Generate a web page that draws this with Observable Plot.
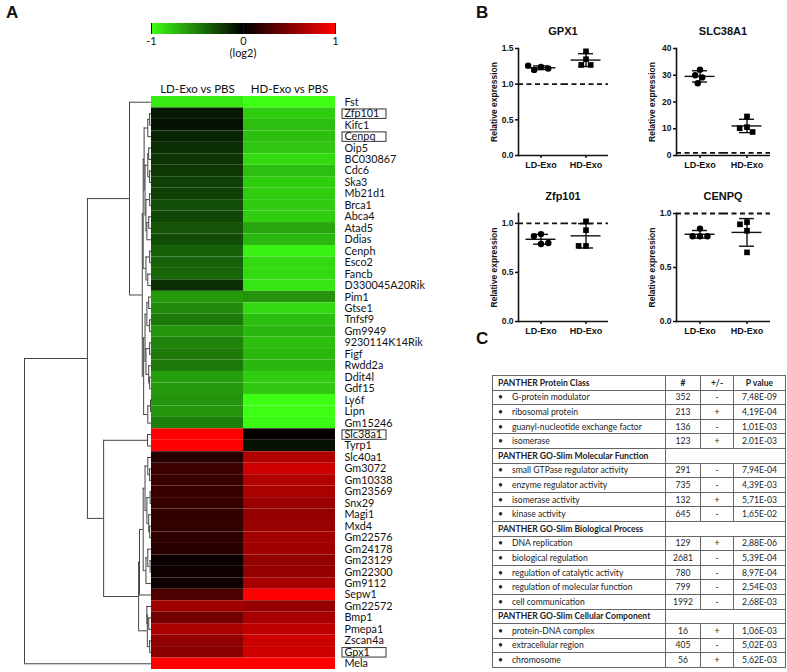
<!DOCTYPE html>
<html><head><meta charset="utf-8">
<script src="https://cdn.jsdelivr.net/npm/d3@7"></script>
<script src="https://cdn.jsdelivr.net/npm/@observablehq/plot@0.6"></script>
<style>
body{margin:0;background:#fff;}
#root{position:relative;width:787px;height:672px;overflow:hidden;font-family:"Liberation Sans",Arial,sans-serif;color:#111;}
.abs{position:absolute;}
.panel{font:bold 17px "Liberation Sans",Arial,sans-serif;}
.btitle{font:bold 11px "Liberation Sans",Arial,sans-serif;text-align:center;width:120px;}
#tbl{position:absolute;left:492px;top:375px;border-collapse:collapse;font-family:Lato,sans-serif;font-size:8.6px;color:#222;table-layout:fixed;}
#tbl td{border:1px solid #666;height:13.6px;padding:0;white-space:nowrap;overflow:hidden;}
#tbl td.c{text-align:center;}
#tbl td.h{font-weight:bold;padding-left:5px;}
#tbl .b{display:inline-block;width:14px;padding-left:5px;}
</style></head>
<body><div id="root"></div>
<script>
// ---------- Panel A data ----------
const genes = ["Fst","Zfp101","Kifc1","Cenpq","Oip5","BC030867","Cdc6","Ska3","Mb21d1","Brca1","Abca4","Atad5","Ddias","Cenph","Esco2","Fancb","D330045A20Rik","Pim1","Gtse1","Tnfsf9","Gm9949","9230114K14Rik","Figf","Rwdd2a","Ddit4l","Gdf15","Ly6f","Lipn","Gm15246","Slc38a1","Tyrp1","Slc40a1","Gm3072","Gm10338","Gm23569","Snx29","Magi1","Mxd4","Gm22576","Gm24178","Gm23129","Gm22300","Gm9112","Sepw1","Gm22572","Bmp1","Pmepa1","Zscan4a","Gpx1","Mela"];
const ldValues = [-0.92,-0.10,-0.07,-0.14,-0.18,-0.20,-0.22,-0.25,-0.25,-0.30,-0.28,-0.33,-0.30,-0.38,-0.38,-0.40,-0.18,-0.60,-0.55,-0.48,-0.58,-0.52,-0.48,-0.48,-0.62,-0.60,-0.58,-0.58,-0.50,1.0,1.0,0.14,0.23,0.23,0.22,0.21,0.20,0.20,0.18,0.16,0.04,0.06,0.06,0.30,0.63,0.45,0.67,0.57,0.54,1.0];
const hdValues = [-1.0,-0.80,-0.75,-0.75,-0.78,-0.85,-0.75,-0.80,-0.80,-0.80,-0.80,-0.65,-0.72,-0.95,-0.85,-0.85,-0.90,-0.58,-0.85,-0.75,-0.72,-0.75,-0.72,-0.72,-0.80,-0.78,-1.0,-1.0,-0.98,0.02,-0.08,0.69,0.80,0.69,0.67,0.60,0.58,0.60,0.64,0.63,0.58,0.58,0.65,1.0,0.59,0.66,0.75,0.80,0.80,1.0];
const heatColumns = ["LD-Exo vs PBS","HD-Exo vs PBS"];
const boxedGenes = ["Zfp101","Cenpq","Slc38a1","Gpx1"];
const colorStops = [-1,0,1];
const colorRange = ["#3cff14","#000000","#ff0000"];
// dendrogram: [left, right, merge distance]; leaves are row indices
const dendrogram = [
  [
    [0,
      [
        [
          [[[1,2,0.02],3,0.04],[[[4,5,0.03],[6,7,0.02],0.04],[[8,9,0.02],[[10,11,0.03],12,0.05],0.06],0.07],0.08],
          [[13,14,0.02],[15,16,0.04],0.06],
          0.09],
        [
          [[[17,18,0.03],[19,20,0.02],0.05],[[21,22,0.02],[23,[24,25,0.02],0.03],0.06],0.07],
          [[26,27,0.01],28,0.04],
          0.085],
        0.10],
      0.239],
    [[29,30,0.043],
      [
        [[[[31,[32,33,0.02],0.04],[[34,35,0.015],[36,[37,38,0.02],0.03],0.05],0.07],[[39,[40,41,0.015],0.04],42,0.06],0.09],43,0.13],
        [[44,[45,46,0.03],0.05],[47,48,0.02],0.045],
        0.14],
      0.52],
    0.696],
  49, 1.38];

// ---------- Panel B data ----------
const groups = ["LD-Exo","HD-Exo"];
const gpx1LD = [1.24,1.20,1.22,1.26];
const gpx1HD = [1.46,1.35,1.27,1.27];
const slc38a1LD = [32.1,30.0,29.2,27.0];
const slc38a1HD = [14.6,10.6,10.2,8.8];
const zfp101LD = [0.89,0.87,0.79,0.80];
const zfp101HD = [1.02,0.93,0.77,0.77];
const cenpqLD = [0.86,0.79,0.79,0.79];
const cenpqHD = [0.92,0.90,0.84,0.64];

// ---------- Panel C data ----------
const tableHeader = ["#","+/-","P value"];
const sections = ["PANTHER Protein Class","PANTHER GO-Slim Molecular Function","PANTHER GO-Slim Biological Process","PANTHER GO-Slim Cellular Component"];
const termSection = [0,0,0,0,1,1,1,1,2,2,2,2,2,3,3,3];
const termNames = ["G-protein modulator","ribosomal protein","guanyl-nucleotide exchange factor","isomerase","small GTPase regulator activity","enzyme regulator activity","isomerase activity","kinase activity","DNA replication","biological regulation","regulation of catalytic activity","regulation of molecular function","cell communication","protein-DNA complex","extracellular region","chromosome"];
const termCounts = [352,213,136,123,291,735,132,645,129,2681,780,799,1992,16,405,56];
const termSigns = ["-","+","-","+","-","-","+","-","+","-","-","-","-","+","-","+"];
const termPvalues = ["7,48E-09","4,19E-04","1,01E-03","2.01E-03","7,94E-04","4,39E-03","5,71E-03","1,65E-02","2,88E-06","5,39E-04","8,97E-04","2,54E-03","2,68E-03","1,06E-03","5,02E-03","5,62E-03"];

// ================= build =================
const root = document.getElementById("root");
function place(el, left, top) {
  const w = document.createElement("div");
  w.className = "abs"; w.style.left = left + "px"; w.style.top = top + "px";
  w.appendChild(el); root.appendChild(w); return w;
}
function label(text, cls, left, top) {
  const d = document.createElement("div");
  d.className = "abs " + cls; d.textContent = text;
  d.style.left = left + "px"; d.style.top = top + "px";
  root.appendChild(d); return d;
}

// ---- Panel A heatmap ----
const cells = [];
genes.forEach((g, i) => {
  cells.push({row: i, col: 0, value: ldValues[i]});
  cells.push({row: i, col: 1, value: hdValues[i]});
});
const verticals = [], horizontals = [];
function layout(node) {
  if (typeof node === "number") return {y: node + 0.5, h: 0};
  const [a, b, h] = node;
  const A = layout(a), B = layout(b);
  verticals.push({h, y1: A.y, y2: B.y});
  horizontals.push({y: A.y, h1: A.h, h2: h}, {y: B.y, h1: B.h, h2: h});
  return {y: (A.y + B.y) / 2, h};
}
layout(dendrogram);
const geneRows = genes.map((g, i) => ({gene: g, row: i}));
const boxed = geneRows.filter(d => boxedGenes.includes(d.gene));

const heat = Plot.plot({
  width: 400, height: 672,
  marginLeft: 24, marginRight: 65, marginTop: 96, marginBottom: 3,
  style: {fontFamily: "Lato, sans-serif", fontSize: "10.8px", overflow: "visible", background: "transparent"},
  x: {domain: [-1.38, 2], axis: null},
  y: {domain: [0, genes.length], reverse: true, axis: null},
  color: {type: "linear", domain: colorStops, range: colorRange, interpolate: "rgb"},
  marks: [
    Plot.rect(cells, {x1: "col", x2: d => d.col + 1, y1: "row", y2: d => d.row + 1, fill: "value"}),
    Plot.ruleX(verticals, {x: d => -d.h, y1: "y1", y2: "y2", stroke: "#444", strokeWidth: 1}),
    Plot.ruleY(horizontals, {y: "y", x1: d => -d.h1, x2: d => -d.h2, stroke: "#444", strokeWidth: 1}),
    Plot.text(heatColumns, {x: (d, i) => i + 0.5, text: d => d, frameAnchor: "top", dy: -12, fontSize: 11.5, fill: "#111"}),
    Plot.text(geneRows, {y: d => d.row + 0.5, text: "gene", frameAnchor: "right", textAnchor: "start", dx: 9, fill: "#111"}),
    Plot.rect(boxed, {y1: "row", y2: d => d.row + 1, insetLeft: 318, insetRight: -51, insetTop: 1.5, insetBottom: 0.5, fill: "none", stroke: "#333", strokeWidth: 1})
  ]
});
place(heat, 0, 0);

// colour bar
const legend = Plot.legend({
  color: {type: "linear", domain: colorStops, range: colorRange, interpolate: "rgb"},
  width: 204, height: 30, marginLeft: 10, marginRight: 10, marginTop: 3, marginBottom: 16,
  ticks: [-1, 0, 1], tickSize: 0, tickFormat: d => String(d), label: null,
  style: {fontFamily: "Lato, sans-serif", fontSize: "11px", color: "#111"}
});
place(legend, 141, 20);
label("(log2)", "", 218, 46).style.cssText += "font:11px Lato,sans-serif;width:50px;text-align:center;";

// ---- Panel B scatter plots ----
function scatter(ld, hd, {domain, ticks, fmt, width, height}) {
  const data = [...ld.map(v => ({group: groups[0], value: v})), ...hd.map(v => ({group: groups[1], value: v}))];
  const summary = groups.map(g => {
    const v = data.filter(d => d.group === g).map(d => d.value);
    const m = d3.mean(v), s = d3.deviation(v);
    return {group: g, mean: m, lo: m - s, hi: m + s};
  });
  const fw = (width - 48 - 5) / 2;
  return Plot.plot({
    width, height, marginLeft: 48, marginRight: 5, marginTop: 28, marginBottom: 20,
    style: {fontFamily: "'Liberation Sans', Arial, sans-serif", fontSize: "8.5px", fontWeight: "bold", overflow: "visible", background: "transparent"},
    fx: {domain: groups, padding: 0},
    y: {domain},
    symbol: {domain: groups, range: ["circle", "square"]},
    marks: [
      Plot.axisY({ticks, tickFormat: fmt, tickSize: 3, tickPadding: 2, label: "Relative expression", labelAnchor: "center", labelArrow: "none", labelOffset: 28, strokeWidth: 1.5}),
      Plot.axisFx({anchor: "bottom", tickSize: 3, tickPadding: 3, label: null, fontSize: 9, strokeWidth: 1.5}),
      Plot.ruleY([1], {strokeDasharray: "5,3.5", strokeWidth: 1.8}),
      Plot.frame({anchor: "left", facetAnchor: "left", strokeWidth: 1.6}),
      Plot.ruleY([0], {strokeWidth: 1.6}),
      Plot.ruleX(summary, {fx: "group", x: null, y1: "lo", y2: "hi", strokeWidth: 1.4}),
      Plot.tickY(summary, {fx: "group", y: "mean", insetLeft: (fw - 30) / 2, insetRight: (fw - 30) / 2, strokeWidth: 1.4}),
      Plot.tickY(summary, {fx: "group", y: "hi", insetLeft: (fw - 15) / 2, insetRight: (fw - 15) / 2, strokeWidth: 1.4}),
      Plot.tickY(summary, {fx: "group", y: "lo", insetLeft: (fw - 15) / 2, insetRight: (fw - 15) / 2, strokeWidth: 1.4}),
      Plot.dot(data, Plot.dodgeX("middle", {fx: "group", y: "value", r: 3.2, fill: "black", stroke: "none", symbol: "group", padding: 0}))
    ]
  });
}
place(scatter(gpx1LD, gpx1HD, {domain: [0, 1.5], ticks: [0, 0.5, 1, 1.5], fmt: ".1f", width: 143, height: 155}), 470, 20);
place(scatter(slc38a1LD, slc38a1HD, {domain: [0, 40], ticks: [0, 10, 20, 30, 40], fmt: "d", width: 147, height: 155}), 628, 20);
place(scatter(zfp101LD, zfp101HD, {domain: [0, 1.1], ticks: [0, 0.5, 1], fmt: ".1f", width: 143, height: 156}), 470, 185);
place(scatter(cenpqLD, cenpqHD, {domain: [0, 1], ticks: [0, 0.5, 1], fmt: ".1f", width: 147, height: 156}), 628, 185);
label("GPX1", "btitle", 503, 25);
label("SLC38A1", "btitle", 663, 25);
label("Zfp101", "btitle", 503, 190);
label("CENPQ", "btitle", 663, 190);

// ---- Panel C table ----
const tbl = document.createElement("table");
tbl.id = "tbl";
const cg = document.createElement("colgroup");
[173, 35, 33, 52].forEach(w => { const c = document.createElement("col"); c.style.width = w + "px"; cg.appendChild(c); });
tbl.appendChild(cg);
sections.forEach((s, si) => {
  const tr = document.createElement("tr");
  const td = document.createElement("td"); td.className = "h"; td.textContent = s; tr.appendChild(td);
  if (si === 0) {
    tableHeader.forEach(h => { const c = document.createElement("td"); c.className = "c"; c.style.fontWeight = "bold"; c.textContent = h; tr.appendChild(c); });
  } else {
    const c = document.createElement("td"); c.colSpan = 3; tr.appendChild(c);
  }
  tbl.appendChild(tr);
  termNames.forEach((n, i) => {
    if (termSection[i] !== si) return;
    const r = document.createElement("tr");
    const a = document.createElement("td");
    const b = document.createElement("span"); b.className = "b"; b.textContent = "•";
    a.appendChild(b); a.appendChild(document.createTextNode(n)); r.appendChild(a);
    [termCounts[i], termSigns[i], termPvalues[i]].forEach(v => { const c = document.createElement("td"); c.className = "c"; c.textContent = v; r.appendChild(c); });
    tbl.appendChild(r);
  });
});
root.appendChild(tbl);

// panel letters
label("A", "panel", 6, 3);
label("B", "panel", 476, 3);
label("C", "panel", 476, 329);
</script>
</body></html>
